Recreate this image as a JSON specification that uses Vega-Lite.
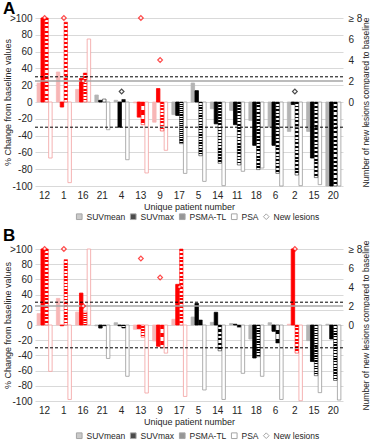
{
"$schema": "https://vega.github.io/schema/vega-lite/v6.json",
"padding": {"left": 3, "top": 0, "right": 0, "bottom": 0},
"background": "white",
"spacing": 4,
"config": {
 "font": "Liberation Sans",
 "view": {"stroke": null},
 "axis": {"labelFont": "Liberation Sans", "labelFontSize": 10, "labelColor": "#262626", "titleFont": "Liberation Sans", "titleFontSize": 9, "titleFontWeight": "normal", "titleColor": "#262626", "domain": false, "ticks": false, "grid": false, "labelOverlap": false},
 "legend": {"labelFont": "Liberation Sans", "labelFontSize": 8.5, "labelColor": "#262626"},
 "title": {"font": "Liberation Sans", "fontSize": 17, "fontWeight": "bold", "anchor": "start", "frame": "bounds", "color": "#000000", "offset": -5}
},
"datasets": {
 "bars": [
  {"panel":"A","patient":"12","series":"SUVmean","value":22.6,"prog":true},{"panel":"A","patient":"12","series":"SUVmax","value":100,"prog":true},{"panel":"A","patient":"12","series":"PSMA-TL","value":100,"prog":true},{"panel":"A","patient":"12","series":"PSA","value":-66.7,"prog":true},
  {"panel":"A","patient":"1","series":"SUVmean","value":35.7,"prog":true},{"panel":"A","patient":"1","series":"SUVmax","value":-6,"prog":true},{"panel":"A","patient":"1","series":"PSMA-TL","value":95,"prog":true},{"panel":"A","patient":"1","series":"PSA","value":-96,"prog":true},
  {"panel":"A","patient":"16","series":"SUVmean","value":15,"prog":true},{"panel":"A","patient":"16","series":"SUVmax","value":28,"prog":true},{"panel":"A","patient":"16","series":"PSMA-TL","value":34.5,"prog":true},{"panel":"A","patient":"16","series":"PSA","value":75,"prog":true},
  {"panel":"A","patient":"21","series":"SUVmean","value":8.3,"prog":false},{"panel":"A","patient":"21","series":"SUVmax","value":2,"prog":false},{"panel":"A","patient":"21","series":"PSMA-TL","value":3.5,"prog":false},{"panel":"A","patient":"21","series":"PSA","value":-33,"prog":false},
  {"panel":"A","patient":"4","series":"SUVmean","value":2,"prog":false},{"panel":"A","patient":"4","series":"SUVmax","value":-30,"prog":false},{"panel":"A","patient":"4","series":"PSMA-TL","value":3,"prog":false},{"panel":"A","patient":"4","series":"PSA","value":-68.7,"prog":false},
  {"panel":"A","patient":"13","series":"SUVmean","value":-1,"prog":true},{"panel":"A","patient":"13","series":"SUVmax","value":-18,"prog":true},{"panel":"A","patient":"13","series":"PSMA-TL","value":-27,"prog":true},{"panel":"A","patient":"13","series":"PSA","value":-84.5,"prog":true},
  {"panel":"A","patient":"9","series":"SUVmean","value":-24,"prog":true},{"panel":"A","patient":"9","series":"SUVmax","value":16,"prog":true},{"panel":"A","patient":"9","series":"PSMA-TL","value":-34.5,"prog":true},{"panel":"A","patient":"9","series":"PSA","value":-57.5,"prog":true},
  {"panel":"A","patient":"17","series":"SUVmean","value":-15,"prog":false},{"panel":"A","patient":"17","series":"SUVmax","value":-16,"prog":false},{"panel":"A","patient":"17","series":"PSMA-TL","value":-49.6,"prog":false},{"panel":"A","patient":"17","series":"PSA","value":-85,"prog":false},
  {"panel":"A","patient":"5","series":"SUVmean","value":22.6,"prog":false},{"panel":"A","patient":"5","series":"SUVmax","value":13.5,"prog":false},{"panel":"A","patient":"5","series":"PSMA-TL","value":-64,"prog":false},{"panel":"A","patient":"5","series":"PSA","value":-94.5,"prog":false},
  {"panel":"A","patient":"14","series":"SUVmean","value":-8,"prog":false},{"panel":"A","patient":"14","series":"SUVmax","value":-26,"prog":false},{"panel":"A","patient":"14","series":"PSMA-TL","value":-73,"prog":false},{"panel":"A","patient":"14","series":"PSA","value":-99.6,"prog":false},
  {"panel":"A","patient":"11","series":"SUVmean","value":-10,"prog":false},{"panel":"A","patient":"11","series":"SUVmax","value":-27,"prog":false},{"panel":"A","patient":"11","series":"PSMA-TL","value":-75,"prog":false},{"panel":"A","patient":"11","series":"PSA","value":-82.5,"prog":false},
  {"panel":"A","patient":"18","series":"SUVmean","value":-22,"prog":false},{"panel":"A","patient":"18","series":"SUVmax","value":-51.6,"prog":false},{"panel":"A","patient":"18","series":"PSMA-TL","value":-80.5,"prog":false},{"panel":"A","patient":"18","series":"PSA","value":-78.6,"prog":false},
  {"panel":"A","patient":"6","series":"SUVmean","value":-30,"prog":false},{"panel":"A","patient":"6","series":"SUVmax","value":-51.6,"prog":false},{"panel":"A","patient":"6","series":"PSMA-TL","value":-85,"prog":false},{"panel":"A","patient":"6","series":"PSA","value":-100,"prog":false},
  {"panel":"A","patient":"2","series":"SUVmean","value":-35,"prog":false},{"panel":"A","patient":"2","series":"SUVmax","value":-3,"prog":false},{"panel":"A","patient":"2","series":"PSMA-TL","value":-87,"prog":false},{"panel":"A","patient":"2","series":"PSA","value":-99.6,"prog":false},
  {"panel":"A","patient":"15","series":"SUVmean","value":-35,"prog":false},{"panel":"A","patient":"15","series":"SUVmax","value":-66.7,"prog":false},{"panel":"A","patient":"15","series":"PSMA-TL","value":-90,"prog":false},{"panel":"A","patient":"15","series":"PSA","value":-98.4,"prog":false},
  {"panel":"A","patient":"20","series":"SUVmean","value":-100,"prog":false},{"panel":"A","patient":"20","series":"SUVmax","value":-100,"prog":false},{"panel":"A","patient":"20","series":"PSMA-TL","value":-100,"prog":false},{"panel":"A","patient":"20","series":"PSA","value":-100,"prog":false},
  {"panel":"B","patient":"12","series":"SUVmean","value":15,"prog":true},{"panel":"B","patient":"12","series":"SUVmax","value":100,"prog":true},{"panel":"B","patient":"12","series":"PSMA-TL","value":100,"prog":true},{"panel":"B","patient":"12","series":"PSA","value":-61,"prog":true},
  {"panel":"B","patient":"1","series":"SUVmean","value":35,"prog":true},{"panel":"B","patient":"1","series":"SUVmax","value":-1,"prog":true},{"panel":"B","patient":"1","series":"PSMA-TL","value":86,"prog":true},{"panel":"B","patient":"1","series":"PSA","value":-98,"prog":true},
  {"panel":"B","patient":"16","series":"SUVmean","value":17,"prog":true},{"panel":"B","patient":"16","series":"SUVmax","value":42,"prog":true},{"panel":"B","patient":"16","series":"PSMA-TL","value":17,"prog":true},{"panel":"B","patient":"16","series":"PSA","value":100,"prog":true},
  {"panel":"B","patient":"21","series":"SUVmean","value":-1,"prog":false},{"panel":"B","patient":"21","series":"SUVmax","value":-4,"prog":false},{"panel":"B","patient":"21","series":"PSMA-TL","value":-1,"prog":false},{"panel":"B","patient":"21","series":"PSA","value":-44,"prog":false},
  {"panel":"B","patient":"4","series":"SUVmean","value":3,"prog":false},{"panel":"B","patient":"4","series":"SUVmax","value":-1,"prog":false},{"panel":"B","patient":"4","series":"PSMA-TL","value":-4,"prog":false},{"panel":"B","patient":"4","series":"PSA","value":-67.5,"prog":false},
  {"panel":"B","patient":"13","series":"SUVmean","value":-5.7,"prog":true},{"panel":"B","patient":"13","series":"SUVmax","value":-5,"prog":true},{"panel":"B","patient":"13","series":"PSMA-TL","value":-16,"prog":true},{"panel":"B","patient":"13","series":"PSA","value":-89.5,"prog":true},
  {"panel":"B","patient":"9","series":"SUVmean","value":-21,"prog":true},{"panel":"B","patient":"9","series":"SUVmax","value":-28,"prog":true},{"panel":"B","patient":"9","series":"PSMA-TL","value":-30,"prog":true},{"panel":"B","patient":"9","series":"PSA","value":-37,"prog":true},
  {"panel":"B","patient":"17","series":"SUVmean","value":7.5,"prog":true},{"panel":"B","patient":"17","series":"SUVmax","value":53.5,"prog":true},{"panel":"B","patient":"17","series":"PSMA-TL","value":100,"prog":true},{"panel":"B","patient":"17","series":"PSA","value":-94,"prog":true},
  {"panel":"B","patient":"5","series":"SUVmean","value":10.5,"prog":false},{"panel":"B","patient":"5","series":"SUVmax","value":28.5,"prog":false},{"panel":"B","patient":"5","series":"PSMA-TL","value":6.6,"prog":false},{"panel":"B","patient":"5","series":"PSA","value":-85.5,"prog":false},
  {"panel":"B","patient":"14","series":"SUVmean","value":3.5,"prog":false},{"panel":"B","patient":"14","series":"SUVmax","value":16.7,"prog":false},{"panel":"B","patient":"14","series":"PSMA-TL","value":-34,"prog":false},{"panel":"B","patient":"14","series":"PSA","value":-98,"prog":false},
  {"panel":"B","patient":"11","series":"SUVmean","value":2,"prog":false},{"panel":"B","patient":"11","series":"SUVmax","value":1,"prog":false},{"panel":"B","patient":"11","series":"PSMA-TL","value":-3,"prog":false},{"panel":"B","patient":"11","series":"PSA","value":-63.6,"prog":false},
  {"panel":"B","patient":"18","series":"SUVmean","value":-18.4,"prog":false},{"panel":"B","patient":"18","series":"SUVmax","value":-43.4,"prog":false},{"panel":"B","patient":"18","series":"PSMA-TL","value":-41.7,"prog":false},{"panel":"B","patient":"18","series":"PSA","value":-67.5,"prog":false},
  {"panel":"B","patient":"6","series":"SUVmean","value":3,"prog":false},{"panel":"B","patient":"6","series":"SUVmax","value":-8.3,"prog":false},{"panel":"B","patient":"6","series":"PSMA-TL","value":-23.7,"prog":false},{"panel":"B","patient":"6","series":"PSA","value":-98,"prog":false},
  {"panel":"B","patient":"2","series":"SUVmean","value":1,"prog":true},{"panel":"B","patient":"2","series":"SUVmax","value":100,"prog":true},{"panel":"B","patient":"2","series":"PSMA-TL","value":-37,"prog":true},{"panel":"B","patient":"2","series":"PSA","value":-99.6,"prog":true},
  {"panel":"B","patient":"15","series":"SUVmean","value":-20.6,"prog":false},{"panel":"B","patient":"15","series":"SUVmax","value":-48,"prog":false},{"panel":"B","patient":"15","series":"PSMA-TL","value":-66.7,"prog":false},{"panel":"B","patient":"15","series":"PSA","value":-89,"prog":false},
  {"panel":"B","patient":"20","series":"SUVmean","value":1,"prog":false},{"panel":"B","patient":"20","series":"SUVmax","value":-18.4,"prog":false},{"panel":"B","patient":"20","series":"PSMA-TL","value":-73,"prog":false},{"panel":"B","patient":"20","series":"PSA","value":-98.7,"prog":false}
 ],
 "lesions": [
  {"panel":"A","patient":"12","series":"New lesions","lesions":8,"prog":true},
  {"panel":"A","patient":"1","series":"New lesions","lesions":8,"prog":true},
  {"panel":"A","patient":"16","series":"New lesions","lesions":2,"prog":true},
  {"panel":"A","patient":"4","series":"New lesions","lesions":1,"prog":false},
  {"panel":"A","patient":"13","series":"New lesions","lesions":8,"prog":true},
  {"panel":"A","patient":"9","series":"New lesions","lesions":4,"prog":true},
  {"panel":"A","patient":"2","series":"New lesions","lesions":1,"prog":false},
  {"panel":"B","patient":"12","series":"New lesions","lesions":8,"prog":true},
  {"panel":"B","patient":"1","series":"New lesions","lesions":8,"prog":true},
  {"panel":"B","patient":"16","series":"New lesions","lesions":2,"prog":true},
  {"panel":"B","patient":"13","series":"New lesions","lesions":7,"prog":true},
  {"panel":"B","patient":"9","series":"New lesions","lesions":5,"prog":true},
  {"panel":"B","patient":"17","series":"New lesions","lesions":4,"prog":true},
  {"panel":"B","patient":"2","series":"New lesions","lesions":8,"prog":true}
 ]
},
"resolve": {"scale": {"color": "independent", "shape": "independent"}, "legend": {"color": "independent", "shape": "independent"}},
"vconcat": [
 {
  "title": {"text": "A"},
  "width": 308,
  "height": 168,
  "resolve": {"scale": {"y": "independent", "fill": "independent", "stroke": "independent"}},
  "layer": [
   {
    "resolve": {"scale": {"fill": "independent", "stroke": "independent"}},
    "layer": [
     {
      "data": {"name": "bars"},
      "transform": [{"filter": "datum.panel == 'A' && !datum.prog && datum.series != 'PSMA-TL'"}],
      "mark": {"type": "bar", "strokeWidth": 0.8},
      "encoding": {
       "x": {"field": "patient", "type": "nominal", "sort": ["12","1","16","21","4","13","9","17","5","14","11","18","6","2","15","20"], "scale": {"paddingInner": 0.22, "paddingOuter": 0.11}, "axis": {"title": "Unique patient number", "labelAngle": 0, "labelPadding": 4, "titlePadding": 2}},
       "xOffset": {"field": "series", "type": "nominal", "scale": {"domain": ["SUVmean","SUVmax","PSMA-TL","PSA"], "paddingInner": 0.1}},
       "y": {"field": "value", "type": "quantitative", "scale": {"domain": [-100, 100], "nice": false}, "axis": {"title": "% Change from baseline values", "values": [-100,-80,-60,-40,-20,0,20,40,60,80,100], "tickCount": 11, "labelExpr": "datum.value == 100 ? '>100' : '' + datum.value", "labelOverlap": false, "grid": true, "gridColor": "#d9d9d9", "labelPadding": 3, "titleX": -28, "titleBaseline": "middle"}},
       "fill": {"field": "series", "type": "nominal", "scale": {"domain": ["SUVmean","SUVmax","PSA"], "range": ["#b4b4b4","#000000","#ffffff"]}, "legend": null},
       "stroke": {"field": "series", "type": "nominal", "scale": {"domain": ["SUVmean","SUVmax","PSA"], "range": ["#b4b4b4","#000000","#9a9a9a"]}, "legend": null}
      }
     },
     {
      "data": {"name": "bars"},
      "transform": [{"filter": "datum.panel == 'A' && datum.prog && datum.series != 'PSMA-TL'"}],
      "mark": {"type": "bar", "strokeWidth": 0.8},
      "encoding": {
       "x": {"field": "patient", "type": "nominal", "sort": ["12","1","16","21","4","13","9","17","5","14","11","18","6","2","15","20"]},
       "xOffset": {"field": "series", "type": "nominal"},
       "y": {"field": "value", "type": "quantitative"},
       "fill": {"field": "series", "type": "nominal", "scale": {"domain": ["SUVmean","SUVmax","PSA"], "range": ["#f7b6b6","#ff0000","#ffffff"]}, "legend": null},
       "stroke": {"field": "series", "type": "nominal", "scale": {"domain": ["SUVmean","SUVmax","PSA"], "range": ["#f7b6b6","#ff0000","#f2a0a0"]}, "legend": null}
      }
     },
     {
      "data": {"name": "bars"},
      "transform": [{"filter": "datum.panel == 'A' && !datum.prog && datum.series == 'PSMA-TL'"}],
      "mark": {"type": "bar", "stroke": "#000000", "strokeWidth": 0.5, "fill": {"gradient": "linear", "x1": 0, "y1": 0, "x2": 0, "y2": 1, "stops": [{"offset":0,"color":"#000"},{"offset":0.025,"color":"#000"},{"offset":0.025,"color":"#fff"},{"offset":0.05,"color":"#fff"},{"offset":0.05,"color":"#000"},{"offset":0.075,"color":"#000"},{"offset":0.075,"color":"#fff"},{"offset":0.1,"color":"#fff"},{"offset":0.1,"color":"#000"},{"offset":0.125,"color":"#000"},{"offset":0.125,"color":"#fff"},{"offset":0.15,"color":"#fff"},{"offset":0.15,"color":"#000"},{"offset":0.175,"color":"#000"},{"offset":0.175,"color":"#fff"},{"offset":0.2,"color":"#fff"},{"offset":0.2,"color":"#000"},{"offset":0.225,"color":"#000"},{"offset":0.225,"color":"#fff"},{"offset":0.25,"color":"#fff"},{"offset":0.25,"color":"#000"},{"offset":0.275,"color":"#000"},{"offset":0.275,"color":"#fff"},{"offset":0.3,"color":"#fff"},{"offset":0.3,"color":"#000"},{"offset":0.325,"color":"#000"},{"offset":0.325,"color":"#fff"},{"offset":0.35,"color":"#fff"},{"offset":0.35,"color":"#000"},{"offset":0.375,"color":"#000"},{"offset":0.375,"color":"#fff"},{"offset":0.4,"color":"#fff"},{"offset":0.4,"color":"#000"},{"offset":0.425,"color":"#000"},{"offset":0.425,"color":"#fff"},{"offset":0.45,"color":"#fff"},{"offset":0.45,"color":"#000"},{"offset":0.475,"color":"#000"},{"offset":0.475,"color":"#fff"},{"offset":0.5,"color":"#fff"},{"offset":0.5,"color":"#000"},{"offset":0.525,"color":"#000"},{"offset":0.525,"color":"#fff"},{"offset":0.55,"color":"#fff"},{"offset":0.55,"color":"#000"},{"offset":0.575,"color":"#000"},{"offset":0.575,"color":"#fff"},{"offset":0.6,"color":"#fff"},{"offset":0.6,"color":"#000"},{"offset":0.625,"color":"#000"},{"offset":0.625,"color":"#fff"},{"offset":0.65,"color":"#fff"},{"offset":0.65,"color":"#000"},{"offset":0.675,"color":"#000"},{"offset":0.675,"color":"#fff"},{"offset":0.7,"color":"#fff"},{"offset":0.7,"color":"#000"},{"offset":0.725,"color":"#000"},{"offset":0.725,"color":"#fff"},{"offset":0.75,"color":"#fff"},{"offset":0.75,"color":"#000"},{"offset":0.775,"color":"#000"},{"offset":0.775,"color":"#fff"},{"offset":0.8,"color":"#fff"},{"offset":0.8,"color":"#000"},{"offset":0.825,"color":"#000"},{"offset":0.825,"color":"#fff"},{"offset":0.85,"color":"#fff"},{"offset":0.85,"color":"#000"},{"offset":0.875,"color":"#000"},{"offset":0.875,"color":"#fff"},{"offset":0.9,"color":"#fff"},{"offset":0.9,"color":"#000"},{"offset":0.925,"color":"#000"},{"offset":0.925,"color":"#fff"},{"offset":0.95,"color":"#fff"},{"offset":0.95,"color":"#000"},{"offset":0.975,"color":"#000"},{"offset":0.975,"color":"#fff"},{"offset":1,"color":"#fff"}]}},
      "encoding": {
       "x": {"field": "patient", "type": "nominal", "sort": ["12","1","16","21","4","13","9","17","5","14","11","18","6","2","15","20"]},
       "xOffset": {"field": "series", "type": "nominal"},
       "y": {"field": "value", "type": "quantitative"}
      }
     },
     {
      "data": {"name": "bars"},
      "transform": [{"filter": "datum.panel == 'A' && datum.prog && datum.series == 'PSMA-TL'"}],
      "mark": {"type": "bar", "stroke": "#ff0000", "strokeWidth": 0.5, "fill": {"gradient": "linear", "x1": 0, "y1": 0, "x2": 0, "y2": 1, "stops": [{"offset":0,"color":"#f00"},{"offset":0.025,"color":"#f00"},{"offset":0.025,"color":"#fff"},{"offset":0.05,"color":"#fff"},{"offset":0.05,"color":"#f00"},{"offset":0.075,"color":"#f00"},{"offset":0.075,"color":"#fff"},{"offset":0.1,"color":"#fff"},{"offset":0.1,"color":"#f00"},{"offset":0.125,"color":"#f00"},{"offset":0.125,"color":"#fff"},{"offset":0.15,"color":"#fff"},{"offset":0.15,"color":"#f00"},{"offset":0.175,"color":"#f00"},{"offset":0.175,"color":"#fff"},{"offset":0.2,"color":"#fff"},{"offset":0.2,"color":"#f00"},{"offset":0.225,"color":"#f00"},{"offset":0.225,"color":"#fff"},{"offset":0.25,"color":"#fff"},{"offset":0.25,"color":"#f00"},{"offset":0.275,"color":"#f00"},{"offset":0.275,"color":"#fff"},{"offset":0.3,"color":"#fff"},{"offset":0.3,"color":"#f00"},{"offset":0.325,"color":"#f00"},{"offset":0.325,"color":"#fff"},{"offset":0.35,"color":"#fff"},{"offset":0.35,"color":"#f00"},{"offset":0.375,"color":"#f00"},{"offset":0.375,"color":"#fff"},{"offset":0.4,"color":"#fff"},{"offset":0.4,"color":"#f00"},{"offset":0.425,"color":"#f00"},{"offset":0.425,"color":"#fff"},{"offset":0.45,"color":"#fff"},{"offset":0.45,"color":"#f00"},{"offset":0.475,"color":"#f00"},{"offset":0.475,"color":"#fff"},{"offset":0.5,"color":"#fff"},{"offset":0.5,"color":"#f00"},{"offset":0.525,"color":"#f00"},{"offset":0.525,"color":"#fff"},{"offset":0.55,"color":"#fff"},{"offset":0.55,"color":"#f00"},{"offset":0.575,"color":"#f00"},{"offset":0.575,"color":"#fff"},{"offset":0.6,"color":"#fff"},{"offset":0.6,"color":"#f00"},{"offset":0.625,"color":"#f00"},{"offset":0.625,"color":"#fff"},{"offset":0.65,"color":"#fff"},{"offset":0.65,"color":"#f00"},{"offset":0.675,"color":"#f00"},{"offset":0.675,"color":"#fff"},{"offset":0.7,"color":"#fff"},{"offset":0.7,"color":"#f00"},{"offset":0.725,"color":"#f00"},{"offset":0.725,"color":"#fff"},{"offset":0.75,"color":"#fff"},{"offset":0.75,"color":"#f00"},{"offset":0.775,"color":"#f00"},{"offset":0.775,"color":"#fff"},{"offset":0.8,"color":"#fff"},{"offset":0.8,"color":"#f00"},{"offset":0.825,"color":"#f00"},{"offset":0.825,"color":"#fff"},{"offset":0.85,"color":"#fff"},{"offset":0.85,"color":"#f00"},{"offset":0.875,"color":"#f00"},{"offset":0.875,"color":"#fff"},{"offset":0.9,"color":"#fff"},{"offset":0.9,"color":"#f00"},{"offset":0.925,"color":"#f00"},{"offset":0.925,"color":"#fff"},{"offset":0.95,"color":"#fff"},{"offset":0.95,"color":"#f00"},{"offset":0.975,"color":"#f00"},{"offset":0.975,"color":"#fff"},{"offset":1,"color":"#fff"}]}},
      "encoding": {
       "x": {"field": "patient", "type": "nominal", "sort": ["12","1","16","21","4","13","9","17","5","14","11","18","6","2","15","20"]},
       "xOffset": {"field": "series", "type": "nominal"},
       "y": {"field": "value", "type": "quantitative"}
      }
     },
     {
      "data": {"values": [{}]},
      "mark": {"type": "rule", "color": "#a6a6a6", "strokeWidth": 1.5},
      "encoding": {"y": {"datum": 25, "type": "quantitative"}}
     },
     {
      "data": {"values": [{}]},
      "mark": {"type": "rule", "color": "#000000", "strokeWidth": 1, "strokeDash": [3, 2]},
      "encoding": {"y": {"datum": 30, "type": "quantitative"}}
     },
     {
      "data": {"values": [{}]},
      "mark": {"type": "rule", "color": "#000000", "strokeWidth": 1, "strokeDash": [3, 2]},
      "encoding": {"y": {"datum": -30, "type": "quantitative"}}
     }
    ]
   },
   {
    "data": {"name": "lesions"},
    "transform": [{"filter": "datum.panel == 'A'"}],
    "mark": {"type": "point", "shape": "diamond", "filled": true, "fill": "#ffffff", "size": 22, "strokeWidth": 1.2},
    "encoding": {
     "x": {"field": "patient", "type": "nominal", "sort": ["12","1","16","21","4","13","9","17","5","14","11","18","6","2","15","20"]},
     "y": {"field": "lesions", "type": "quantitative", "scale": {"domain": [-8, 8], "nice": false}, "axis": {"orient": "right", "title": "Number of new lesions compared to baseline", "titleFontSize": 8.5, "titleAngle": 270, "titleBaseline": "middle", "values": [0, 2, 4, 6, 8], "tickCount": 5, "labelExpr": "datum.value == 8 ? '≥ 8' : '' + datum.value", "labelOverlap": false, "grid": false, "labelPadding": 5, "titleX": 22}},
     "stroke": {"condition": {"test": "datum.prog", "value": "#ff0000"}, "value": "#000000"}
    }
   },
   {
    "data": {"name": "lesions"},
    "transform": [{"filter": "false"}],
    "mark": {"type": "point", "filled": true},
    "encoding": {
     "color": {"field": "series", "type": "nominal", "scale": {"domain": ["SUVmean","SUVmax","PSMA-TL","PSA","New lesions"], "range": ["#b4b4b4","#000000","#6a6a6a","#ffffff","#ffffff"]}, "legend": {"title": null, "orient": "none", "legendX": 40, "legendY": 194, "direction": "horizontal", "symbolSize": 32, "columnPadding": 2, "labelOffset": 3, "padding": 0, "symbolStrokeWidth": 1, "symbolStrokeColor": "#808080"}},
     "shape": {"field": "series", "type": "nominal", "scale": {"domain": ["SUVmean","SUVmax","PSMA-TL","PSA","New lesions"], "range": ["square","square","square","square","diamond"]}, "legend": {"title": null, "orient": "none", "legendX": 40, "legendY": 194, "direction": "horizontal", "symbolSize": 32, "columnPadding": 2, "labelOffset": 3, "padding": 0, "symbolStrokeWidth": 1, "symbolStrokeColor": "#808080"}}
    }
   }
  ]
 },
 {
  "title": {"text": "B"},
  "width": 308,
  "height": 152,
  "resolve": {"scale": {"y": "independent", "fill": "independent", "stroke": "independent"}},
  "layer": [
   {
    "resolve": {"scale": {"fill": "independent", "stroke": "independent"}},
    "layer": [
     {
      "data": {"name": "bars"},
      "transform": [{"filter": "datum.panel == 'B' && !datum.prog && datum.series != 'PSMA-TL'"}],
      "mark": {"type": "bar", "strokeWidth": 0.8},
      "encoding": {
       "x": {"field": "patient", "type": "nominal", "sort": ["12","1","16","21","4","13","9","17","5","14","11","18","6","2","15","20"], "scale": {"paddingInner": 0.22, "paddingOuter": 0.11}, "axis": {"title": "Unique patient number", "labelAngle": 0, "labelPadding": 4, "titlePadding": 2}},
       "xOffset": {"field": "series", "type": "nominal", "scale": {"domain": ["SUVmean","SUVmax","PSMA-TL","PSA"], "paddingInner": 0.1}},
       "y": {"field": "value", "type": "quantitative", "scale": {"domain": [-100, 100], "nice": false}, "axis": {"title": "% Change from baseline values", "values": [-100,-80,-60,-40,-20,0,20,40,60,80,100], "tickCount": 11, "labelExpr": "datum.value == 100 ? '>100' : '' + datum.value", "labelOverlap": false, "grid": true, "gridColor": "#d9d9d9", "labelPadding": 3, "titleX": -28, "titleBaseline": "middle"}},
       "fill": {"field": "series", "type": "nominal", "scale": {"domain": ["SUVmean","SUVmax","PSA"], "range": ["#b4b4b4","#000000","#ffffff"]}, "legend": null},
       "stroke": {"field": "series", "type": "nominal", "scale": {"domain": ["SUVmean","SUVmax","PSA"], "range": ["#b4b4b4","#000000","#9a9a9a"]}, "legend": null}
      }
     },
     {
      "data": {"name": "bars"},
      "transform": [{"filter": "datum.panel == 'B' && datum.prog && datum.series != 'PSMA-TL'"}],
      "mark": {"type": "bar", "strokeWidth": 0.8},
      "encoding": {
       "x": {"field": "patient", "type": "nominal", "sort": ["12","1","16","21","4","13","9","17","5","14","11","18","6","2","15","20"]},
       "xOffset": {"field": "series", "type": "nominal"},
       "y": {"field": "value", "type": "quantitative"},
       "fill": {"field": "series", "type": "nominal", "scale": {"domain": ["SUVmean","SUVmax","PSA"], "range": ["#f7b6b6","#ff0000","#ffffff"]}, "legend": null},
       "stroke": {"field": "series", "type": "nominal", "scale": {"domain": ["SUVmean","SUVmax","PSA"], "range": ["#f7b6b6","#ff0000","#f2a0a0"]}, "legend": null}
      }
     },
     {
      "data": {"name": "bars"},
      "transform": [{"filter": "datum.panel == 'B' && !datum.prog && datum.series == 'PSMA-TL'"}],
      "mark": {"type": "bar", "stroke": "#000000", "strokeWidth": 0.5, "fill": {"gradient": "linear", "x1": 0, "y1": 0, "x2": 0, "y2": 1, "stops": [{"offset":0,"color":"#000"},{"offset":0.025,"color":"#000"},{"offset":0.025,"color":"#fff"},{"offset":0.05,"color":"#fff"},{"offset":0.05,"color":"#000"},{"offset":0.075,"color":"#000"},{"offset":0.075,"color":"#fff"},{"offset":0.1,"color":"#fff"},{"offset":0.1,"color":"#000"},{"offset":0.125,"color":"#000"},{"offset":0.125,"color":"#fff"},{"offset":0.15,"color":"#fff"},{"offset":0.15,"color":"#000"},{"offset":0.175,"color":"#000"},{"offset":0.175,"color":"#fff"},{"offset":0.2,"color":"#fff"},{"offset":0.2,"color":"#000"},{"offset":0.225,"color":"#000"},{"offset":0.225,"color":"#fff"},{"offset":0.25,"color":"#fff"},{"offset":0.25,"color":"#000"},{"offset":0.275,"color":"#000"},{"offset":0.275,"color":"#fff"},{"offset":0.3,"color":"#fff"},{"offset":0.3,"color":"#000"},{"offset":0.325,"color":"#000"},{"offset":0.325,"color":"#fff"},{"offset":0.35,"color":"#fff"},{"offset":0.35,"color":"#000"},{"offset":0.375,"color":"#000"},{"offset":0.375,"color":"#fff"},{"offset":0.4,"color":"#fff"},{"offset":0.4,"color":"#000"},{"offset":0.425,"color":"#000"},{"offset":0.425,"color":"#fff"},{"offset":0.45,"color":"#fff"},{"offset":0.45,"color":"#000"},{"offset":0.475,"color":"#000"},{"offset":0.475,"color":"#fff"},{"offset":0.5,"color":"#fff"},{"offset":0.5,"color":"#000"},{"offset":0.525,"color":"#000"},{"offset":0.525,"color":"#fff"},{"offset":0.55,"color":"#fff"},{"offset":0.55,"color":"#000"},{"offset":0.575,"color":"#000"},{"offset":0.575,"color":"#fff"},{"offset":0.6,"color":"#fff"},{"offset":0.6,"color":"#000"},{"offset":0.625,"color":"#000"},{"offset":0.625,"color":"#fff"},{"offset":0.65,"color":"#fff"},{"offset":0.65,"color":"#000"},{"offset":0.675,"color":"#000"},{"offset":0.675,"color":"#fff"},{"offset":0.7,"color":"#fff"},{"offset":0.7,"color":"#000"},{"offset":0.725,"color":"#000"},{"offset":0.725,"color":"#fff"},{"offset":0.75,"color":"#fff"},{"offset":0.75,"color":"#000"},{"offset":0.775,"color":"#000"},{"offset":0.775,"color":"#fff"},{"offset":0.8,"color":"#fff"},{"offset":0.8,"color":"#000"},{"offset":0.825,"color":"#000"},{"offset":0.825,"color":"#fff"},{"offset":0.85,"color":"#fff"},{"offset":0.85,"color":"#000"},{"offset":0.875,"color":"#000"},{"offset":0.875,"color":"#fff"},{"offset":0.9,"color":"#fff"},{"offset":0.9,"color":"#000"},{"offset":0.925,"color":"#000"},{"offset":0.925,"color":"#fff"},{"offset":0.95,"color":"#fff"},{"offset":0.95,"color":"#000"},{"offset":0.975,"color":"#000"},{"offset":0.975,"color":"#fff"},{"offset":1,"color":"#fff"}]}},
      "encoding": {
       "x": {"field": "patient", "type": "nominal", "sort": ["12","1","16","21","4","13","9","17","5","14","11","18","6","2","15","20"]},
       "xOffset": {"field": "series", "type": "nominal"},
       "y": {"field": "value", "type": "quantitative"}
      }
     },
     {
      "data": {"name": "bars"},
      "transform": [{"filter": "datum.panel == 'B' && datum.prog && datum.series == 'PSMA-TL'"}],
      "mark": {"type": "bar", "stroke": "#ff0000", "strokeWidth": 0.5, "fill": {"gradient": "linear", "x1": 0, "y1": 0, "x2": 0, "y2": 1, "stops": [{"offset":0,"color":"#f00"},{"offset":0.025,"color":"#f00"},{"offset":0.025,"color":"#fff"},{"offset":0.05,"color":"#fff"},{"offset":0.05,"color":"#f00"},{"offset":0.075,"color":"#f00"},{"offset":0.075,"color":"#fff"},{"offset":0.1,"color":"#fff"},{"offset":0.1,"color":"#f00"},{"offset":0.125,"color":"#f00"},{"offset":0.125,"color":"#fff"},{"offset":0.15,"color":"#fff"},{"offset":0.15,"color":"#f00"},{"offset":0.175,"color":"#f00"},{"offset":0.175,"color":"#fff"},{"offset":0.2,"color":"#fff"},{"offset":0.2,"color":"#f00"},{"offset":0.225,"color":"#f00"},{"offset":0.225,"color":"#fff"},{"offset":0.25,"color":"#fff"},{"offset":0.25,"color":"#f00"},{"offset":0.275,"color":"#f00"},{"offset":0.275,"color":"#fff"},{"offset":0.3,"color":"#fff"},{"offset":0.3,"color":"#f00"},{"offset":0.325,"color":"#f00"},{"offset":0.325,"color":"#fff"},{"offset":0.35,"color":"#fff"},{"offset":0.35,"color":"#f00"},{"offset":0.375,"color":"#f00"},{"offset":0.375,"color":"#fff"},{"offset":0.4,"color":"#fff"},{"offset":0.4,"color":"#f00"},{"offset":0.425,"color":"#f00"},{"offset":0.425,"color":"#fff"},{"offset":0.45,"color":"#fff"},{"offset":0.45,"color":"#f00"},{"offset":0.475,"color":"#f00"},{"offset":0.475,"color":"#fff"},{"offset":0.5,"color":"#fff"},{"offset":0.5,"color":"#f00"},{"offset":0.525,"color":"#f00"},{"offset":0.525,"color":"#fff"},{"offset":0.55,"color":"#fff"},{"offset":0.55,"color":"#f00"},{"offset":0.575,"color":"#f00"},{"offset":0.575,"color":"#fff"},{"offset":0.6,"color":"#fff"},{"offset":0.6,"color":"#f00"},{"offset":0.625,"color":"#f00"},{"offset":0.625,"color":"#fff"},{"offset":0.65,"color":"#fff"},{"offset":0.65,"color":"#f00"},{"offset":0.675,"color":"#f00"},{"offset":0.675,"color":"#fff"},{"offset":0.7,"color":"#fff"},{"offset":0.7,"color":"#f00"},{"offset":0.725,"color":"#f00"},{"offset":0.725,"color":"#fff"},{"offset":0.75,"color":"#fff"},{"offset":0.75,"color":"#f00"},{"offset":0.775,"color":"#f00"},{"offset":0.775,"color":"#fff"},{"offset":0.8,"color":"#fff"},{"offset":0.8,"color":"#f00"},{"offset":0.825,"color":"#f00"},{"offset":0.825,"color":"#fff"},{"offset":0.85,"color":"#fff"},{"offset":0.85,"color":"#f00"},{"offset":0.875,"color":"#f00"},{"offset":0.875,"color":"#fff"},{"offset":0.9,"color":"#fff"},{"offset":0.9,"color":"#f00"},{"offset":0.925,"color":"#f00"},{"offset":0.925,"color":"#fff"},{"offset":0.95,"color":"#fff"},{"offset":0.95,"color":"#f00"},{"offset":0.975,"color":"#f00"},{"offset":0.975,"color":"#fff"},{"offset":1,"color":"#fff"}]}},
      "encoding": {
       "x": {"field": "patient", "type": "nominal", "sort": ["12","1","16","21","4","13","9","17","5","14","11","18","6","2","15","20"]},
       "xOffset": {"field": "series", "type": "nominal"},
       "y": {"field": "value", "type": "quantitative"}
      }
     },
     {
      "data": {"values": [{}]},
      "mark": {"type": "rule", "color": "#a6a6a6", "strokeWidth": 1.5},
      "encoding": {"y": {"datum": 25, "type": "quantitative"}}
     },
     {
      "data": {"values": [{}]},
      "mark": {"type": "rule", "color": "#000000", "strokeWidth": 1, "strokeDash": [3, 2]},
      "encoding": {"y": {"datum": 30, "type": "quantitative"}}
     },
     {
      "data": {"values": [{}]},
      "mark": {"type": "rule", "color": "#000000", "strokeWidth": 1, "strokeDash": [3, 2]},
      "encoding": {"y": {"datum": -30, "type": "quantitative"}}
     }
    ]
   },
   {
    "data": {"name": "lesions"},
    "transform": [{"filter": "datum.panel == 'B'"}],
    "mark": {"type": "point", "shape": "diamond", "filled": true, "fill": "#ffffff", "size": 22, "strokeWidth": 1.2},
    "encoding": {
     "x": {"field": "patient", "type": "nominal", "sort": ["12","1","16","21","4","13","9","17","5","14","11","18","6","2","15","20"]},
     "y": {"field": "lesions", "type": "quantitative", "scale": {"domain": [-8, 8], "nice": false}, "axis": {"orient": "right", "title": "Number of new lesions compared to baseline", "titleFontSize": 8.5, "titleAngle": 270, "titleBaseline": "middle", "values": [0, 2, 4, 6, 8], "tickCount": 5, "labelExpr": "datum.value == 8 ? '≥ 8' : '' + datum.value", "labelOverlap": false, "grid": false, "labelPadding": 5, "titleX": 22}},
     "stroke": {"condition": {"test": "datum.prog", "value": "#ff0000"}, "value": "#000000"}
    }
   },
   {
    "data": {"name": "lesions"},
    "transform": [{"filter": "false"}],
    "mark": {"type": "point", "filled": true},
    "encoding": {
     "color": {"field": "series", "type": "nominal", "scale": {"domain": ["SUVmean","SUVmax","PSMA-TL","PSA","New lesions"], "range": ["#b4b4b4","#000000","#6a6a6a","#ffffff","#ffffff"]}, "legend": {"title": null, "orient": "none", "legendX": 40, "legendY": 182, "direction": "horizontal", "symbolSize": 32, "columnPadding": 2, "labelOffset": 3, "padding": 0, "symbolStrokeWidth": 1, "symbolStrokeColor": "#808080"}},
     "shape": {"field": "series", "type": "nominal", "scale": {"domain": ["SUVmean","SUVmax","PSMA-TL","PSA","New lesions"], "range": ["square","square","square","square","diamond"]}, "legend": {"title": null, "orient": "none", "legendX": 40, "legendY": 182, "direction": "horizontal", "symbolSize": 32, "columnPadding": 2, "labelOffset": 3, "padding": 0, "symbolStrokeWidth": 1, "symbolStrokeColor": "#808080"}}
    }
   }
  ]
 }
]
}
